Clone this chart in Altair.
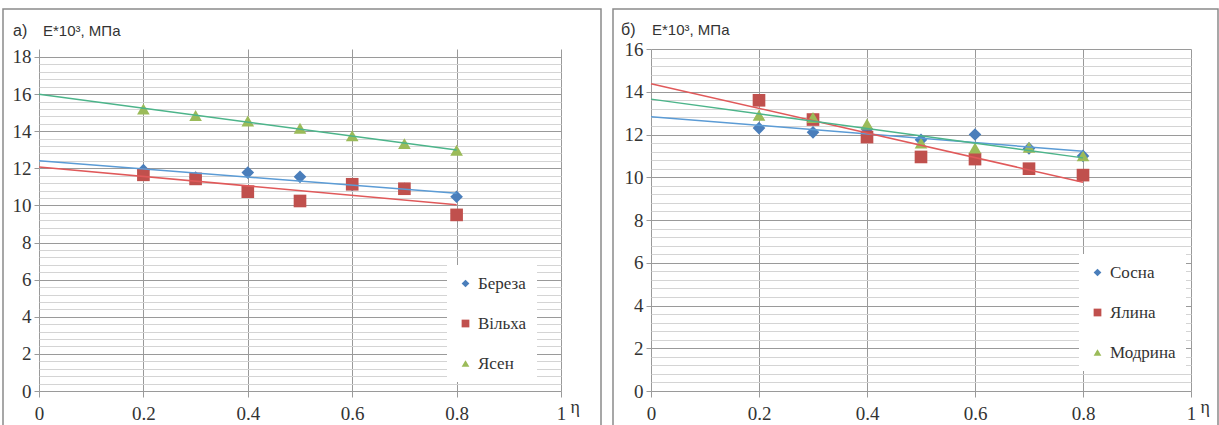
import altair as alt
import pandas as pd

# ---- data ----
eta = [0.2, 0.3, 0.4, 0.5, 0.6, 0.7, 0.8]

left_names = ["Береза", "Вільха", "Ясен"]
bereza = [11.9, 11.5, 11.77, 11.54, 11.1, 10.9, 10.47]
vilkha = [11.65, 11.43, 10.74, 10.24, 11.14, 10.9, 9.49]
yasen = [15.2, 14.85, 14.55, 14.16, 13.75, 13.33, 12.97]

right_names = ["Сосна", "Ялина", "Модрина"]
sosna = [12.3, 12.1, 12.25, 11.75, 12.0, 11.35, 11.0]
yalyna = [13.6, 12.7, 11.88, 10.95, 10.85, 10.4, 10.1]
modryna = [12.9, 12.8, 12.49, 11.6, 11.37, 11.4, 11.0]

x_ticks = [0, 0.2, 0.4, 0.6, 0.8, 1]

sym_colors = ["#4a7ebb", "#c0504d", "#9bbb59"]
line_colors = ["#5b9bd5", "#e0595a", "#4cb48a"]
shapes = ["diamond", "square", "triangle-up"]

SERIF = "Times New Roman"
SANS = "Liberation Sans"
TXT = "#333333"


def long_df(names, series):
    rows = []
    for n, vals in zip(names, series):
        for x, v in zip(eta, vals):
            rows.append({"eta": x, "E": v, "s": n})
    return pd.DataFrame(rows)


def panel(df, names, ymax, ydom, width, height, label_a, label_b, a_dx, b_dx, t_dy,
          leg_x, leg_y, border_left, border_right):
    minor = [round(i * 0.4, 1) for i in range(int(round(ymax / 0.4)) + 1)]
    major = "abs(datum.value/2 - round(datum.value/2)) < 0.001"

    x = alt.X(
        "eta:Q",
        scale=alt.Scale(domain=[0, 1], nice=False, zero=True),
        axis=alt.Axis(
            values=x_ticks, format="~g", grid=True, gridColor="#9a9a9a", gridWidth=1,
            domain=False, ticks=True, tickColor="#9a9a9a", tickSize=6,
            labelFont=SERIF, labelFontSize=19, labelColor=TXT, labelPadding=7,
            labelFlush=False, labelOverlap=False,
            title="η", titleFont=SERIF, titleFontSize=18, titleFontWeight="normal",
            titleColor=TXT, titleX=width + 9, titleY=16, titleAlign="left",
            titleBaseline="middle", titleAngle=0,
        ),
    )
    y = alt.Y(
        "E:Q",
        scale=alt.Scale(domain=[0, ydom], nice=False, zero=True),
        axis=alt.Axis(
            values=minor, grid=True,
            gridColor={"condition": {"test": major, "value": "#9a9a9a"}, "value": "#d4d4d4"},
            gridWidth=1, domain=False, ticks=True, tickColor="#9a9a9a", tickSize=5,
            tickOpacity={"condition": {"test": major, "value": 1}, "value": 0},
            labelExpr=f"{major} ? format(datum.value, 'd') : ''",
            labelFont=SERIF, labelFontSize=19, labelColor=TXT, labelPadding=3,
            labelOverlap=False, labelFlush=False, title=None,
        ),
    )

    border = alt.Chart(alt.Data(values=[{}])).mark_rect(
        fill="transparent", stroke="#8a8a8a", strokeWidth=1.5
    ).encode(
        x=alt.value(border_left), x2=alt.value(width + border_right),
        y=alt.value(-40), y2=alt.value(height + 80),
    )

    title_a = alt.Chart(alt.Data(values=[{}])).mark_text(
        text=label_a, align="left", baseline="middle", font=SANS, fontSize=16, color=TXT
    ).encode(x=alt.value(a_dx), y=alt.value(t_dy))
    title_b = alt.Chart(alt.Data(values=[{}])).mark_text(
        text=label_b, align="left", baseline="middle", font=SANS, fontSize=15, color=TXT
    ).encode(x=alt.value(b_dx), y=alt.value(t_dy))

    legend = alt.Legend(
        orient="none", legendX=leg_x, legendY=leg_y, title=None, fillColor="white",
        padding=10, rowPadding=22, symbolSize=60, symbolStrokeWidth=0, labelOffset=4,
        labelFont=SERIF, labelFontSize=17, labelColor=TXT, direction="vertical",
    )

    points = alt.Chart(df).mark_point(filled=True, size=160, opacity=1).encode(
        x=x, y=y,
        fill=alt.Fill("s:N", scale=alt.Scale(domain=names, range=sym_colors), legend=legend),
        shape=alt.Shape("s:N", scale=alt.Scale(domain=names, range=shapes), legend=legend),
    )

    lines = alt.Chart(df).transform_regression(
        "eta", "E", groupby=["s"], extent=[0, 0.8]
    ).mark_line(strokeWidth=1.5).encode(
        x=x, y=y,
        stroke=alt.Stroke("s:N", scale=alt.Scale(domain=names, range=line_colors), legend=None),
    )

    return alt.layer(border, points, lines, title_a, title_b).properties(
        width=width, height=height
    )


left = panel(long_df(left_names, [bereza, vilkha, yasen]), left_names,
             18, 18.43, 522, 342, "а)", "E*10³, МПа", -26, 4, -18,
             408, 216, -36, 40)
right = panel(long_df(right_names, [sosna, yalyna, modryna]), right_names,
              16, 16, 540, 342, "б)", "E*10³, МПа", -30, 1, -19,
              428, 205, -38, 27)

chart = alt.hconcat(left, right, spacing=10).properties(
    padding={"left": 2, "top": 8, "right": 0, "bottom": 0}
).configure_view(strokeWidth=0).configure_axis(
    labelFont=SERIF, titleFont=SERIF
).configure_legend(labelFont=SERIF).resolve_scale(
    fill="independent", shape="independent", stroke="independent"
)

chart.save("out.html", embed_options={"renderer": "svg", "actions": False})
